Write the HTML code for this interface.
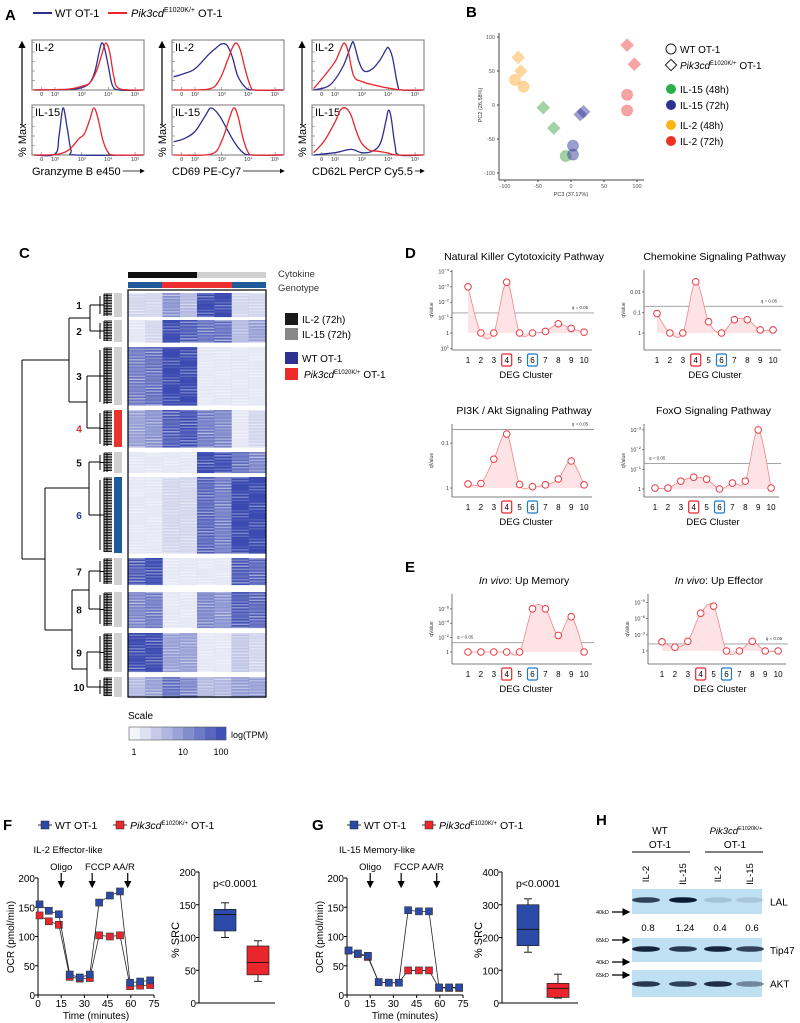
<!DOCTYPE html>
<html><head><meta charset="utf-8"><style>
html,body{margin:0;padding:0;background:#fff}
svg{display:block;font-family:"Liberation Sans",Arial,sans-serif}
</style></head><body>
<svg id="fig" width="800" height="1023" viewBox="0 0 800 1023" xmlns="http://www.w3.org/2000/svg">
<defs><marker id="ah" markerWidth="6" markerHeight="6" refX="5" refY="3" orient="auto"><path d="M0,0 L6,3 L0,6 z" fill="#000"/></marker></defs>
<g font-weight="bold" font-size="15">
<text x="5" y="20">A</text><text x="466" y="17">B</text><text x="19" y="258">C</text><text x="405" y="258">D</text><text x="405" y="572">E</text><text x="3" y="830">F</text><text x="312" y="830">G</text><text x="596" y="825">H</text>
</g>
<g font-size="11">
<line x1="33" y1="13" x2="52" y2="13" stroke="#2b2f8f" stroke-width="2"/>
<text x="55" y="17">WT OT-1</text>
<line x1="108" y1="13" x2="127" y2="13" stroke="#e8262c" stroke-width="2"/>
<text x="131" y="17"><tspan font-style="italic">Pik3cd</tspan><tspan font-size="7" dy="-5">E1020K/+</tspan><tspan dy="5"> OT-1</tspan></text>
</g>
<g id="panelA"></g>
<g id="panelB"></g>
<g id="panelC"></g>
<g id="panelDE"></g>
<g id="panelFG"></g>
<g id="panelH"></g>
</svg>
<script>
const NS="http://www.w3.org/2000/svg";
function mk(tag,attrs,parent,txt){const e=document.createElementNS(NS,tag);for(const k in attrs)e.setAttribute(k,attrs[k]);if(txt!==undefined)e.textContent=txt;parent.appendChild(e);return e;}
function cr(p){let d="M"+p[0][0].toFixed(1)+","+p[0][1].toFixed(1);for(let i=0;i<p.length-1;i++){const p0=p[i-1]||p[i],p1=p[i],p2=p[i+1],p3=p[i+2]||p2;d+=" C"+(p1[0]+(p2[0]-p0[0])/6).toFixed(1)+","+(p1[1]+(p2[1]-p0[1])/6).toFixed(1)+" "+(p2[0]-(p3[0]-p1[0])/6).toFixed(1)+","+(p2[1]-(p3[1]-p1[1])/6).toFixed(1)+" "+p2[0].toFixed(1)+","+p2[1].toFixed(1);}return d;}

/* ===== Panel A data (x = log10 decade, h = fraction of max) ===== */
const gzmTopBlue=[[1.2,0],[2.5,0.01],[3,0.05],[3.3,0.15],[3.5,0.4],[3.65,0.8],[3.75,1],[3.85,0.9],[4,0.5],[4.15,0.1],[4.4,0],[5.3,0]];
const gzmTopRed=[[1.2,0],[2.5,0.02],[3,0.08],[3.3,0.15],[3.55,0.4],[3.75,0.75],[3.9,1],[4.05,0.8],[4.2,0.3],[4.4,0.03],[5.3,0]];
const gzmBotBlue=[[1.2,0],[2,0.02],[2.15,0.4],[2.3,1],[2.45,0.6],[2.6,0.1],[2.8,0],[5.3,0]];
const gzmBotRed=[[1.2,0],[2,0.01],[2.5,0.1],[2.9,0.35],[3.1,0.45],[3.3,0.75],[3.45,1],[3.6,0.8],[3.8,0.3],[4.0,0.05],[4.2,0],[5.3,0]];
const cd69TopBlue=[[1.2,0.28],[1.6,0.35],[2,0.45],[2.5,0.75],[2.8,0.9],[3.0,0.98],[3.2,0.95],[3.4,0.7],[3.6,0.3],[3.9,0.05],[4.2,0],[5.3,0]];
const cd69TopRed=[[1.2,0],[2.5,0.02],[2.9,0.2],[3.2,0.6],[3.4,0.9],[3.55,1],[3.7,0.85],[3.9,0.4],[4.1,0.05],[4.3,0],[5.3,0]];
const cd69BotBlue=[[1.2,0.28],[1.6,0.35],[2,0.5],[2.4,0.85],[2.6,1],[2.9,0.85],[3.2,0.55],[3.5,0.25],[3.8,0.05],[4.1,0],[5.3,0]];
const cd69BotRed=[[1.2,0],[2.6,0.02],[3.0,0.3],[3.3,0.8],[3.45,1],[3.6,0.85],[3.8,0.35],[4.0,0.05],[4.2,0],[5.3,0]];
const cd62TopRed=[[1.2,0.03],[1.6,0.3],[2,0.6],[2.2,0.85],[2.35,1],[2.5,0.8],[2.7,0.3],[3,0.18],[3.5,0.1],[4,0.04],[4.5,0],[5.3,0]];
const cd62TopBlue=[[1.2,0],[1.8,0.1],[2.3,0.5],[2.6,0.95],[2.7,1],[2.9,0.6],[3.1,0.4],[3.4,0.45],[3.7,0.65],[3.9,0.85],[4.0,0.9],[4.15,0.7],[4.35,0.1],[4.5,0],[5.3,0]];
const cd62BotRed=[[1.2,0.05],[1.6,0.3],[2.0,0.7],[2.2,0.95],[2.4,1],[2.6,0.85],[2.8,0.5],[3.0,0.25],[3.3,0.1],[3.6,0.08],[4.0,0.04],[4.3,0],[5.3,0]];
const cd62BotBlue=[[1.2,0],[2.0,0.05],[2.6,0.12],[3.0,0.05],[3.4,0.08],[3.7,0.25],[3.9,0.7],[4.0,0.95],[4.1,0.8],[4.25,0.2],[4.4,0],[5.3,0]];
const histMarkers=["Granzyme B e450","CD69 PE-Cy7","CD62L PerCP Cy5.5"];
const histTickLabels=["0","10²","10³","10⁴","10⁵"];
const histTickDecades=[1.5,2,3,4,5];
(function(){
  const g=document.getElementById("panelA");
  const lefts=[32,172,312];
  const sets=[[gzmTopBlue,gzmTopRed,gzmBotBlue,gzmBotRed],[cd69TopBlue,cd69TopRed,cd69BotBlue,cd69BotRed],[cd62TopBlue,cd62TopRed,cd62BotBlue,cd62BotRed]];
  lefts.forEach((L,pi)=>{
    const xs=d=>L+23+(d-2)*26.7;
    [[40,0],[105,2]].forEach(([top,si],ri)=>{
      const box=mk("rect",{x:L,y:top,width:112,height:50,fill:"#fff",stroke:"#777","stroke-width":1},g);
      
      
      for(let k=0;k<6;k++)mk("line",{x1:L,x2:L+3,y1:top+50-k*9.5,y2:top+50-k*9.5,stroke:"#777","stroke-width":0.6},g);
      histTickDecades.forEach((d,i)=>{
        mk("line",{x1:xs(d),x2:xs(d),y1:top+50,y2:top+47,stroke:"#777","stroke-width":0.6},g);
        const t=mk("text",{x:xs(d),y:top+56,"font-size":5.5,"text-anchor":"middle",fill:"#333"},g,histTickLabels[i]);
        
        
      });
      const lab=mk("text",{x:L+3,y:top+11,"font-size":11},g,ri==0?"IL-2":"IL-15");
      
      
      [[sets[pi][si],"#2b2f8f"],[sets[pi][si+1],"#e8262c"]].forEach(([arr,col])=>{
        const pts=arr.map(p=>[Math.max(L,Math.min(L+112,xs(p[0]))),top+50-p[1]*47]);
        const c=mk("path",{d:cr(pts),fill:"none",stroke:col,"stroke-width":1.3},g);
        
        
      });
    });
    const ax=L-10;
    mk("line",{x1:ax,y1:155,x2:ax,y2:42,stroke:"#000","stroke-width":1.2,"marker-end":"url(#ah)"},g);
    mk("rect",{x:ax-7,y:125,width:14,height:32,fill:"#fff"},g);
    const yl=mk("text",{x:0,y:0,"font-size":11,transform:`translate(${ax+4},157) rotate(-90)`},g,"% Max");
    
    
    const xl=mk("text",{x:L,y:175,"font-size":11},g,histMarkers[pi]);
    
    
    const w=xl.getComputedTextLength?xl.getComputedTextLength():90;
    mk("line",{x1:L+w+2,y1:171,x2:L+112,y2:171,stroke:"#000","stroke-width":0.8,"marker-end":"url(#ah)"},g);
  });
})();

/* ===== Panel B data ===== */
const pcaPC3=[-80,-76,-85,-72,-42,-26,-8,3,3,14,19,85,96,85,85];
const pcaPC2=[70,50,37,27,-4,-34,-75,-60,-73,-14,-10,88,60,15,-8];
const pcaGroup=["IL2_48","IL2_48","IL2_48","IL2_48","IL15_48","IL15_48","IL15_48","IL15_72","IL15_72","IL15_72","IL15_72","IL2_72","IL2_72","IL2_72","IL2_72"];
const pcaShape=["d","d","c","c","d","d","c","c","c","d","d","d","d","c","c"];
const pcaTicks=[-100,-50,0,50,100];
(function(){
  const g=document.getElementById("panelB");
  const X=v=>571+v*0.66, Y=v=>105-v*0.68;
  const col={IL2_48:"#fbb03b",IL15_48:"#4aa64f",IL15_72:"#3a3f9e",IL2_72:"#ee4a4a"};
  mk("line",{x1:499,y1:33,x2:499,y2:180,stroke:"#444","stroke-width":1},g);
  mk("line",{x1:499,y1:180,x2:644,y2:180,stroke:"#444","stroke-width":1},g);
  pcaTicks.forEach(t=>{
    mk("line",{x1:497,x2:499,y1:Y(t),y2:Y(t),stroke:"#444"},g);
    const a=mk("text",{x:495,y:Y(t)+2,"font-size":5.5,"text-anchor":"end",fill:"#555"},g,t);
    
    
    mk("line",{x1:X(t),x2:X(t),y1:180,y2:182,stroke:"#444"},g);
    const b=mk("text",{x:X(t),y:188,"font-size":5.5,"text-anchor":"middle",fill:"#555"},g,t);
    
    
  });
  const xt=mk("text",{x:571,y:196,"font-size":5.5,"text-anchor":"middle",fill:"#333"},g,"PC3 (37.17%)");
  
  
  const yt=mk("text",{x:0,y:0,"font-size":5.5,"text-anchor":"middle",fill:"#333",transform:"translate(482,105) rotate(-90)"},g,"PC2 (26.58%)");
  
  
  pcaPC3.forEach((v,i)=>{
    const cx=X(v),cy=Y(pcaPC2[i]),c=col[pcaGroup[i]];
    let m;
    if(pcaShape[i]=="c") m=mk("circle",{cx,cy,r:5.5,fill:c,"fill-opacity":0.5,stroke:c,"stroke-opacity":0.3},g);
    else m=mk("rect",{x:cx-4.8,y:cy-4.8,width:9.6,height:9.6,fill:c,"fill-opacity":0.5,transform:`rotate(45 ${cx} ${cy})`},g);
    
    
  });
  const lg=mk("g",{"font-size":10},g);
  
  
  mk("circle",{cx:671,cy:49,r:5,fill:"none",stroke:"#222"},lg);mk("text",{x:680,y:53},lg,"WT OT-1");
  mk("rect",{x:667,y:61,width:8,height:8,fill:"none",stroke:"#222",transform:"rotate(45 671 65)"},lg);
  const tt=mk("text",{x:680,y:69},lg);mk("tspan",{"font-style":"italic"},tt,"Pik3cd");mk("tspan",{"font-size":6,dy:-4},tt,"E1020K/+");mk("tspan",{dy:4},tt," OT-1");
  [["#2ab04a","IL-15 (48h)",89],["#2e3192","IL-15 (72h)",105],["#fbb514","IL-2 (48h)",125],["#ee3224","IL-2 (72h)",141]].forEach(([c,t,y])=>{mk("circle",{cx:671,cy:y,r:5,fill:c},lg);mk("text",{x:680,y:y+4},lg,t);});
})();

/* ===== Panel C data: cluster mean expression (0-1) per sample column ===== */
const clusterNames=["1","2","3","4","5","6","7","8","9","10"];
const clusterTop=[293,320,347,410,452,477,558,592,633,677];
const clusterBottom=[317,342,405,447,473,553,585,627,672,697];
const c1=[0.1,0.1,0.35,0.2,0.8,0.8,0.1,0.1];
const c2=[0.05,0.1,0.8,0.6,0.5,0.5,0.2,0.3];
const c3=[0.45,0.5,0.85,0.8,0.05,0.05,0.05,0.05];
const c4=[0.3,0.35,0.6,0.65,0.45,0.4,0.05,0.1];
const c5=[0.05,0.05,0.05,0.05,0.75,0.7,0.5,0.4];
const c6=[0.05,0.05,0.1,0.1,0.55,0.45,0.85,0.85];
const c7=[0.6,0.7,0.05,0.05,0.05,0.05,0.6,0.55];
const c8=[0.4,0.45,0.05,0.05,0.4,0.35,0.6,0.55];
const c9=[0.75,0.75,0.3,0.3,0.05,0.05,0.15,0.1];
const c10=[0.2,0.3,0.5,0.4,0.2,0.2,0.3,0.3];
const clusterMeans=[c1,c2,c3,c4,c5,c6,c7,c8,c9,c10];
(function(){
  const g=document.getElementById("panelC");
  const HX=128,HW=138,cw=HW/8;
  mk("rect",{x:HX,y:272,width:69,height:6,fill:"#111"},g);
  mk("rect",{x:HX+69,y:272,width:69,height:6,fill:"#d0d0d0"},g);
  mk("rect",{x:HX,y:282,width:34,height:6,fill:"#1f5a9a"},g);
  mk("rect",{x:HX+34,y:282,width:70,height:6,fill:"#ee3030"},g);
  mk("rect",{x:HX+104,y:282,width:34,height:6,fill:"#1f5a9a"},g);
  mk("text",{x:278,y:277,"font-size":9.5,fill:"#333"},g,"Cytokine");
  mk("text",{x:278,y:291,"font-size":9.5,fill:"#333"},g,"Genotype");
  const hm=mk("g",{},g);
  
  
  clusterMeans.forEach((row,ci)=>{
    const y0=clusterTop[ci],y1=clusterBottom[ci];
    for(let y=y0;y<y1;y+=1.5){
      const k=Math.round((y-y0)/1.5);
      row.forEach((v,j)=>{
        const mod=0.5+0.5*Math.abs(Math.sin(k*1.7+j*2.3+ci));
        const o=Math.min(1,Math.pow(v,0.8)*mod*1.45);
        if(o<0.05)return;
        const cell=mk("rect",{x:HX+j*cw,y:y,width:cw+0.2,height:1.6,fill:"#3a4ab0","fill-opacity":o.toFixed(2)},hm);
        
        
      });
    }
    const sc=ci==3?"#e8342c":ci==5?"#1f5a9a":"#d0d0d0";
    const sb=mk("rect",{x:114,y:y0,width:8,height:y1-y0,fill:sc},g);
    
    
    const ym=(y0+y1)/2;
    const lab=mk("text",{x:79,y:ym+4,"font-size":10,"font-weight":"bold","text-anchor":"middle",fill:ci==3?"#e8262c":ci==5?"#2b3990":"#111"},g,clusterNames[ci]);
    
    
    mk("line",{x1:100,y1:y0+3,x2:100,y2:y1-3,stroke:"#000","stroke-width":1},g);
    for(let y=y0+1;y<y1-1;y+=1.6){mk("line",{x1:104,y1:y,x2:112,y2:y,stroke:"#000","stroke-width":0.9},g);}
    mk("line",{x1:104,y1:y0+1,x2:104,y2:y1-1,stroke:"#000","stroke-width":1},g);
    mk("line",{x1:107,y1:y0+1,x2:107,y2:y1-1,stroke:"#000","stroke-width":1},g);
    mk("line",{x1:100,y1:ym,x2:104,y2:ym,stroke:"#000","stroke-width":1},g);
  });
  mk("rect",{x:HX,y:290,width:HW,height:407,fill:"none",stroke:"#000","stroke-width":1.2},g);
  const dg=[[90,305,90,331],[90,305,100,305],[90,331,100,331],[69,318,90,318],[87,376,87,428],[87,376,100,376],[87,428,100,428],[69,402,87,402],[69,318,69,402],[22,360,69,360],
  [89,462,89,515],[89,462,100,462],[89,515,100,515],[45,488,89,488],[89,571,89,609],[89,571,100,571],[89,609,100,609],[72,590,89,590],[87,652,87,687],[87,652,100,652],[87,687,100,687],[72,669,87,669],[72,590,72,669],[45,630,72,630],[45,488,45,630],[22,559,45,559],[22,360,22,559]];
  dg.forEach(s=>mk("line",{x1:s[0],y1:s[1],x2:s[2],y2:s[3],stroke:"#000","stroke-width":1},g));
  [["#1a1a1a","IL-2 (72h)",313],["#888","IL-15 (72h)",328],["#2e3192","WT OT-1",352]].forEach(([c,t,y])=>{mk("rect",{x:285,y:y,width:13,height:12,fill:c},g);mk("text",{x:302,y:y+10,"font-size":10},g,t);});
  mk("rect",{x:285,y:368,width:13,height:12,fill:"#ee2a2a"},g);
  const tt=mk("text",{x:304,y:378,"font-size":10},g);mk("tspan",{"font-style":"italic"},tt,"Pik3cd");mk("tspan",{"font-size":6,dy:-4},tt,"E1020K/+");mk("tspan",{dy:4},tt," OT-1");
  mk("text",{x:128,y:719,"font-size":10},g,"Scale");
  for(let i=0;i<9;i++)mk("rect",{x:129+i*10.8,y:727,width:10.8,height:13,fill:"#3d4db3","fill-opacity":(0.06+i*0.115).toFixed(2)},g);
  mk("rect",{x:129,y:727,width:97,height:13,fill:"none",stroke:"#555","stroke-width":0.6},g);
  mk("text",{x:231,y:738,"font-size":9},g,"log(TPM)");
  mk("text",{x:134,y:755,"font-size":9,"text-anchor":"middle"},g,"1");
  mk("text",{x:183,y:755,"font-size":9,"text-anchor":"middle"},g,"10");
  mk("text",{x:221,y:755,"font-size":9,"text-anchor":"middle"},g,"100");
})();

/* ===== Panels D/E data: -log10(qValue) per DEG cluster 1..10 ===== */
const nkValues=[3,0,0,3.3,0,0,0.1,0.6,0.3,0.05];
const chemoValues=[0.95,0,0,2.5,0.55,0,0.65,0.65,0.15,0.15];
const pi3kValues=[0.09,0.1,0.64,1.2,0.08,0.03,0.07,0.2,0.6,0.07];
const foxoValues=[0.05,0.05,0.4,0.6,0.5,0,0.3,0.4,3,0.05];
const memValues=[0,0,0,0,0,6,6,2.3,4.9,0];
const effValues=[1.7,0.7,1.8,7,8.3,0,0,1.8,0,0];
const nkTicks=[4,3,2,1,0,-1];
const chemoTicks=[2,1,0];
const pi3kTicks=[1,0];
const foxoTicks=[3,2,1,0];
const memTicks=[6,4,2,0];
const effTicks=[9,6,3,0];
(function(){
  const g=document.getElementById("panelDE");
  const lbl=(v)=>v==0?"1":v==1?"0.1":v==2?"0.01":"0.001";
  function plot(title,italic,vals,ticks,style,ax,x0,zero,dec,top,xaxis,qLeft){
    const X=i=>x0+i*12.9, Y=v=>zero-v*dec;
    const pg=mk("g",{},g);
    
    
    const tc=(ax+(x0+9*12.9))/2+6;
    const t=mk("text",{x:tc,y:top-10,"font-size":10.5,"text-anchor":"middle"},pg);
    if(italic){mk("tspan",{"font-style":"italic"},t,"In vivo");mk("tspan",{},t,title);}else t.textContent=title;
    mk("line",{x1:ax,y1:top,x2:ax,y2:xaxis,stroke:"#555","stroke-width":0.8},pg);
    mk("line",{x1:ax,y1:xaxis,x2:x0+9*12.9+8,y2:xaxis,stroke:"#555","stroke-width":0.8},pg);
    ticks.forEach(v=>{
      mk("line",{x1:ax-2,x2:ax,y1:Y(v),y2:Y(v),stroke:"#555","stroke-width":0.7},pg);
      const tx=mk("text",{x:ax-3,y:Y(v)+2,"font-size":5.5,"text-anchor":"end",fill:"#333"},pg);
      
      
      if(style=="dec"){tx.textContent=lbl(v);}
      else if(v==0){tx.textContent="1";}
      else{mk("tspan",{},tx,"10");mk("tspan",{"font-size":4,dy:-2.5},tx,(v>0?"−":"")+Math.abs(v));}
    });
    mk("text",{x:0,y:0,"font-size":5,"text-anchor":"middle",fill:"#333",transform:`translate(${ax-19},${(top+xaxis)/2}) rotate(-90)`},pg,"qValue");
    const ql=Y(1.3);
    mk("line",{x1:ax,x2:x0+9*12.9+10,y1:ql,y2:ql,stroke:"#999","stroke-width":0.9},pg);
    mk("text",{x:qLeft?ax+5:x0+9*12.9+4,y:ql-4,"font-size":4.5,"text-anchor":qLeft?"start":"end",fill:"#333"},pg,"q = 0.05");
    const pts=vals.map((v,i)=>[X(i),Y(v)]);
    const d=cr(pts);
    mk("path",{d:d+` L${X(9)},${Y(0)} L${X(0)},${Y(0)} Z`,fill:"#fde3e6"},pg);
    mk("path",{d:d,fill:"none",stroke:"#f08888","stroke-width":0.8},pg);
    vals.forEach((v,i)=>{
      const c=mk("circle",{cx:X(i),cy:Y(v),r:3.3,fill:"#fff",stroke:"#ea3a40","stroke-width":1},pg);
      
      
      const tl=mk("text",{x:X(i),y:xaxis+13,"font-size":8,"text-anchor":"middle"},pg,String(i+1));
      
      
      if(i==3||i==5){const b=mk("rect",{x:X(i)-5,y:xaxis+4,width:10,height:12,rx:1.5,fill:"none",stroke:i==3?"#e8262c":"#1e7bc8","stroke-width":1.2},pg);}
    });
    mk("text",{x:(X(0)+X(9))/2,y:xaxis+28,"font-size":9.5,"text-anchor":"middle"},pg,"DEG Cluster");
  }
  plot("Natural Killer Cytotoxicity Pathway",false,nkValues,nkTicks,"exp",452,468,333,15.4,270,350,false);
  plot("Chemokine Signaling Pathway",false,chemoValues,chemoTicks,"dec",644,657,333,20.5,270,350,false);
  plot("PI3K / Akt Signaling Pathway",false,pi3kValues,pi3kTicks,"dec",452,468,488,45,424,497,false);
  plot("FoxO Signaling Pathway",false,foxoValues,foxoTicks,"exp",644,655,489,19.7,424,497,true);
  plot(": Up Memory",true,memValues,memTicks,"exp",452,468,652,7.2,594,664,true);
  plot(": Up Effector",true,effValues,effTicks,"exp",648,662,651,5.4,594,664,false);
})();

/* ===== Panels F/G data ===== */
const ocrTimes=[1,7,13.5,20.5,27,33.5,39.5,46.5,53,59.5,66,72.5];
const fWT=[155,144,138,35,30,35,158,170,177,21,23,25];
const fMut=[136,126,120,31,28,29,102,100,102,15,16,17];
const gWT=[76,71,67,22,21,21,145,143,143,13,13,13];
const gMut=[76,70,65,22,21,21,42,42,42,12,12,12];
const fBoxWT=[100,110,135,143,153];
const fBoxMut=[33,43,62,87,95];
const gBoxWT=[155,175,225,300,318];
const gBoxMut=[15,17,45,60,88];
const ocrTicks=[0,50,100,150,200];
const timeTicks=[0,15,30,45,60,75];
const fSrcTicks=[0,50,100,150,200];
const gSrcTicks=[0,100,200,300,400];
const injTimes=[15,35,58];
(function(){
  const g=document.getElementById("panelFG");
  function legend(x,y){
    const lg=mk("g",{"font-size":10.5},g);
    
    
    mk("line",{x1:x,x2:x+14,y1:y,y2:y,stroke:"#333"},lg);mk("rect",{x:x+3,y:y-4,width:8,height:8,fill:"#2b4aa8",stroke:"#222","stroke-width":0.5},lg);
    mk("text",{x:x+17,y:y+4},lg,"WT OT-1");
    mk("line",{x1:x+75,x2:x+89,y1:y,y2:y,stroke:"#333"},lg);mk("rect",{x:x+78,y:y-4,width:8,height:8,fill:"#e8262c",stroke:"#222","stroke-width":0.5},lg);
    const t=mk("text",{x:x+92,y:y+4},lg);mk("tspan",{"font-style":"italic"},t,"Pik3cd");mk("tspan",{"font-size":6,dy:-4},t,"E1020K/+");mk("tspan",{dy:4},t,"  OT-1");
  }
  legend(38,825);legend(347,825);
  function ocr(ox,title,wt,mut){
    const X=t=>ox+t*1.547, Y=v=>995-v*0.585;
    mk("text",{x:ox+30,y:853,"font-size":9.5,"text-anchor":"middle"},g,title);
    mk("text",{x:X(injTimes[0]),y:870,"font-size":9.5,"text-anchor":"middle"},g,"Oligo");
    mk("text",{x:(X(injTimes[1])+X(injTimes[2]))/2,y:870,"font-size":9.5,"text-anchor":"middle"},g,"FCCP AA/R");
    injTimes.forEach(t=>mk("line",{x1:X(t),x2:X(t),y1:873,y2:887,stroke:"#000","stroke-width":1.2,"marker-end":"url(#ah)"},g));
    mk("line",{x1:ox,y1:878,x2:ox,y2:995,stroke:"#000"},g);
    mk("line",{x1:ox,y1:995,x2:X(75),y2:995,stroke:"#000"},g);
    ocrTicks.forEach(v=>{mk("line",{x1:ox-3,x2:ox,y1:Y(v),y2:Y(v),stroke:"#000"},g);const t=mk("text",{x:ox-3,y:Y(v)+4,"font-size":10,"text-anchor":"end"},g,v);});
    timeTicks.forEach(v=>{mk("line",{x1:X(v),x2:X(v),y1:995,y2:998,stroke:"#000"},g);const t=mk("text",{x:X(v),y:1007,"font-size":10,"text-anchor":"middle"},g,v);});
    mk("text",{x:X(37.5),y:1019,"font-size":10,"text-anchor":"middle"},g,"Time (minutes)");
    mk("text",{x:0,y:0,"font-size":10,"text-anchor":"middle",transform:`translate(${ox-24},937) rotate(-90)`},g,"OCR (pmol/min)");
    [[mut,"#e8262c"],[wt,"#2b4aa8"]].forEach(([arr,c])=>{
      mk("polyline",{points:arr.map((v,i)=>X(ocrTimes[i])+","+Y(v)).join(" "),fill:"none",stroke:"#222","stroke-width":0.8},g);
      arr.forEach((v,i)=>{const m=mk("rect",{x:X(ocrTimes[i])-3.5,y:Y(v)-3.5,width:7,height:7,fill:c,stroke:"#333","stroke-width":0.6},g);});
    });
  }
  ocr(38,"IL-2 Effector-like",fWT,fMut);
  ocr(347,"IL-15 Memory-like",gWT,gMut);
  function box(ax,ymax,ticks,bw,bm,cx1,cx2){
    const Y=v=>1003-v*(131/ymax);
    mk("line",{x1:ax,y1:Y(ymax),x2:ax,y2:1003,stroke:"#000"},g);
    mk("line",{x1:ax,y1:1003,x2:ax+76,y2:1003,stroke:"#000"},g);
    ticks.forEach(v=>{mk("line",{x1:ax-3,x2:ax,y1:Y(v),y2:Y(v),stroke:"#000"},g);const t=mk("text",{x:ax-3,y:Y(v)+4,"font-size":10,"text-anchor":"end"},g,v);});
    mk("text",{x:0,y:0,"font-size":11,"text-anchor":"middle",transform:`translate(${ax-20},940) rotate(-90)`},g,"% SRC");
    mk("text",{x:ax+36,y:887,"font-size":10.5,"text-anchor":"middle"},g,"p<0.0001");
    [[bw,cx1,"#2b4aa8"],[bm,cx2,"#e8262c"]].forEach(([s,cx,c])=>{
      mk("line",{x1:cx,x2:cx,y1:Y(s[0]),y2:Y(s[4]),stroke:"#222"},g);
      mk("line",{x1:cx-4,x2:cx+4,y1:Y(s[0]),y2:Y(s[0]),stroke:"#222"},g);
      mk("line",{x1:cx-4,x2:cx+4,y1:Y(s[4]),y2:Y(s[4]),stroke:"#222"},g);
      const b=mk("rect",{x:cx-11,y:Y(s[3]),width:22,height:Y(s[1])-Y(s[3]),fill:c,stroke:"#222","stroke-width":0.7},g);
      
      
      mk("line",{x1:cx-11,x2:cx+11,y1:Y(s[2]),y2:Y(s[2]),stroke:"#111","stroke-width":0.9},g);
    });
  }
  box(199,200,fSrcTicks,fBoxWT,fBoxMut,225,258);
  box(502,400,gSrcTicks,gBoxWT,gBoxMut,528,558);
})();

/* ===== Panel H data ===== */
const laneLabels=["IL-2","IL-15","IL-2","IL-15"];
const lalQuant=["0.8","1.24","0.4","0.6"];
const lalBand=[0.8,1.0,0.15,0.12];
const tipBand=[0.95,0.85,0.95,0.8];
const aktBand=[0.85,0.8,0.9,0.45];
(function(){
  const g=document.getElementById("panelH");
  const lanes=[646,683,718,750];
  mk("text",{x:660,y:834,"font-size":10,"text-anchor":"middle"},g,"WT");
  mk("text",{x:660,y:848,"font-size":10,"text-anchor":"middle"},g,"OT-1");
  mk("line",{x1:632,x2:690,y1:852,y2:852,stroke:"#000"},g);
  const t=mk("text",{x:736,y:834,"font-size":9.5,"text-anchor":"middle"},g);mk("tspan",{"font-style":"italic"},t,"Pik3cd");mk("tspan",{"font-size":5.5,dy:-4},t,"E1020K/+");
  mk("text",{x:735,y:848,"font-size":10,"text-anchor":"middle"},g,"OT-1");
  mk("line",{x1:705,x2:763,y1:852,y2:852,stroke:"#000"},g);
  lanes.forEach((x,i)=>{const l=mk("text",{x:0,y:0,"font-size":9.5,"text-anchor":"middle",transform:`translate(${x+3},874) rotate(-90)`},g,laneLabels[i]);});
  function blot(y,h,bands,by,name){
    mk("rect",{x:632,y:y,width:130,height:h,fill:"#bfe0f2"},g);
    bands.forEach((v,i)=>{const b=mk("ellipse",{cx:lanes[i],cy:by,rx:14,ry:2.8,fill:"#0d1a33","fill-opacity":v},g);});
    mk("text",{x:770,y:(y+h/2)+4,"font-size":10},g,name);
  }
  blot(889,25,lalBand,900,"LAL");
  blot(938,24,tipBand,949,"Tip47");
  blot(970,27,aktBand,984,"AKT");
  lalQuant.forEach((q,i)=>mk("text",{x:lanes[i]+2,y:931,"font-size":9.5,"text-anchor":"middle"},g,q));
  [["40kD",912],["65kD",940],["40kD",962],["65kD",975]].forEach(([s,y])=>{mk("text",{x:596,y:y+2,"font-size":5.5},g,s);mk("line",{x1:612,x2:629,y1:y,y2:y,stroke:"#000","stroke-width":1.3,"marker-end":"url(#ah)"},g);});
})();
</script>
</body></html>
